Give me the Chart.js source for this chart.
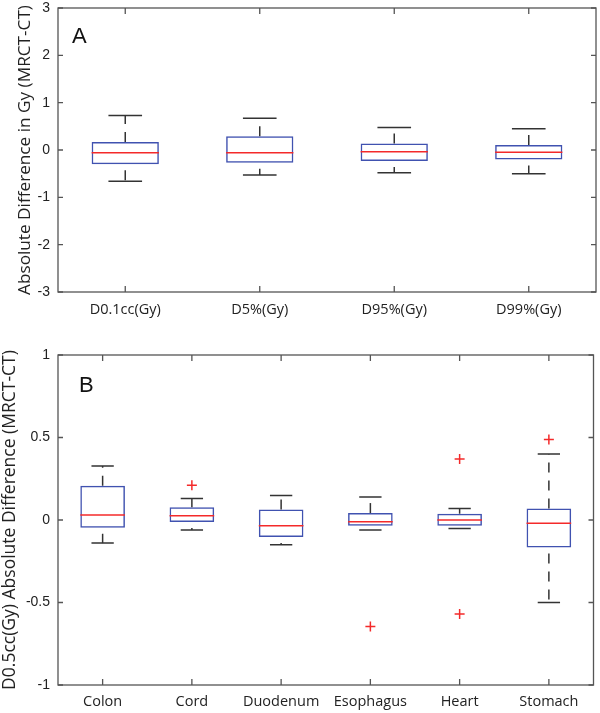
<!DOCTYPE html>
<html>
<head>
<meta charset="utf-8">
<script src="https://cdn.jsdelivr.net/npm/chart.js@4.4.1/dist/chart.umd.min.js"></script>
<style>
  body { margin: 0; background: #fff; }
  #wrapA { position: absolute; left: 0; top: 0; width: 600px; height: 340px; }
  #wrapB { position: absolute; left: 0; top: 340px; width: 600px; height: 373px; }
</style>
</head>
<body>
<div id="wrapA"><canvas id="chartA"></canvas></div>
<div id="wrapB"><canvas id="chartB"></canvas></div>
<script>
// Panel A
const catsA = ["D0.1cc(Gy)", "D5%(Gy)", "D95%(Gy)", "D99%(Gy)"];
const lowA  = [-0.66, -0.53, -0.48, -0.50];
const q1A   = [-0.30, -0.27, -0.23, -0.20];
const medA  = [-0.06, -0.06, -0.035, -0.05];
const q3A   = [0.17, 0.29, 0.135, 0.105];
const highA = [0.73, 0.67, 0.475, 0.45];
const ticksA = [-3, -2, -1, 0, 1, 2, 3];

// Panel B
const catsB = ["Colon", "Cord", "Duodenum", "Esophagus", "Heart", "Stomach"];
const lowB  = [-0.14, -0.061, -0.15, -0.061, -0.051, -0.50];
const q1B   = [-0.047, -0.012, -0.103, -0.035, -0.035, -0.166];
const medB  = [0.03, 0.026, -0.035, -0.01, 0.0, -0.02];
const q3B   = [0.207, 0.077, 0.064, 0.042, 0.038, 0.07];
const highB = [0.328, 0.13, 0.148, 0.14, 0.07, 0.40];
const outB  = [
  { x: "Cord", y: 0.21 },
  { x: "Esophagus", y: -0.646 },
  { x: "Heart", y: 0.37 },
  { x: "Heart", y: -0.569 },
  { x: "Stomach", y: 0.488 }
];
const ticksB = [-1, -0.5, 0, 0.5, 1];

const BLUE = "#4052b0";
const RED = "#f42a2a";
const DARK = "#333333";
const AXIS = "#555555";
const FONT = "'Open Sans', sans-serif";
const NUMFONT = "'Liberation Sans', Arial, sans-serif";

// whiskers, caps, medians and the panel letter
const boxExtras = {
  id: "boxExtras",
  afterDatasetsDraw(chart, args, opts) {
    const ctx = chart.ctx;
    const x = chart.scales.x, y = chart.scales.y;
    const bars = chart.getDatasetMeta(0).data;
    ctx.save();
    opts.med.forEach((m, i) => {
      const cx = x.getPixelForValue(i);
      const w = bars[i].width;
      const yLo = y.getPixelForValue(opts.low[i]);
      const yQ1 = y.getPixelForValue(opts.q1[i]);
      const yQ3 = y.getPixelForValue(opts.q3[i]);
      const yHi = y.getPixelForValue(opts.high[i]);
      ctx.strokeStyle = DARK;
      ctx.lineWidth = 1.5;
      // dashed whiskers
      ctx.setLineDash([10, 8]);
      ctx.lineDashOffset = 0;
      ctx.beginPath();
      ctx.moveTo(cx, yQ3);
      ctx.lineTo(cx, yHi);
      ctx.stroke();
      ctx.lineDashOffset = 12;
      ctx.beginPath();
      ctx.moveTo(cx, yQ1);
      ctx.lineTo(cx, yLo);
      ctx.stroke();
      ctx.setLineDash([]);
      // caps
      ctx.beginPath();
      ctx.moveTo(cx - w / 4, yHi);
      ctx.lineTo(cx + w / 4, yHi);
      ctx.moveTo(cx - w / 4, yLo);
      ctx.lineTo(cx + w / 4, yLo);
      ctx.stroke();
      // median
      const ym = y.getPixelForValue(m);
      ctx.strokeStyle = RED;
      ctx.beginPath();
      ctx.moveTo(cx - w / 2, ym);
      ctx.lineTo(cx + w / 2, ym);
      ctx.stroke();
    });
    ctx.fillStyle = "#111";
    ctx.font = "22px 'Liberation Sans', Arial, sans-serif";
    ctx.textBaseline = "alphabetic";
    ctx.fillText(opts.letter, chart.chartArea.left + opts.letterDx, chart.chartArea.top + opts.letterDy);
    ctx.restore();
  }
};

// full box frame with inward tick marks
const frame = {
  id: "frame",
  afterDraw(chart) {
    const ctx = chart.ctx;
    const a = chart.chartArea;
    const x = chart.scales.x, y = chart.scales.y;
    ctx.save();
    ctx.strokeStyle = AXIS;
    ctx.lineWidth = 1.3;
    ctx.strokeRect(a.left, a.top, a.right - a.left, a.bottom - a.top);
    ctx.beginPath();
    y.ticks.forEach((t, i) => {
      const py = y.getPixelForTick(i);
      ctx.moveTo(a.left, py); ctx.lineTo(a.left + 5, py);
      ctx.moveTo(a.right, py); ctx.lineTo(a.right - 5, py);
    });
    x.ticks.forEach((t, i) => {
      const px = x.getPixelForTick(i);
      ctx.moveTo(px, a.bottom); ctx.lineTo(px, a.bottom - 6);
      ctx.moveTo(px, a.top); ctx.lineTo(px, a.top + 6);
    });
    ctx.stroke();
    ctx.restore();
  }
};

function makeChart(id, cats, low, q1, med, q3, high, outliers, yTicks, cfg) {
  const datasets = [{
    type: "bar",
    data: cats.map((c, i) => [q1[i], q3[i]]),
    backgroundColor: "rgba(255,255,255,0)",
    borderColor: BLUE,
    borderWidth: 1.5,
    borderSkipped: false,
    barPercentage: 0.5,
    categoryPercentage: 1.0
  }];
  if (outliers.length) {
    datasets.push({
      type: "line",
      data: outliers,
      showLine: false,
      pointStyle: "cross",
      pointRadius: 5,
      pointBorderColor: RED,
      pointBorderWidth: 1.5
    });
  }
  return new Chart(document.getElementById(id), {
    type: "bar",
    data: { labels: cats, datasets },
    options: {
      responsive: true,
      maintainAspectRatio: false,
      animation: false,
      layout: { padding: { top: cfg.padTop, right: 4, left: 0, bottom: 0 } },
      plugins: {
        legend: { display: false },
        tooltip: { enabled: false },
        boxExtras: { low, q1, q3, high, med, letter: cfg.letter, letterDx: cfg.letterDx, letterDy: cfg.letterDy }
      },
      scales: {
        x: {
          grid: { display: false, drawTicks: false },
          border: { display: false },
          ticks: { color: "#222", padding: cfg.xPad, font: { family: FONT, size: 14.5 } },
          afterFit(s) { s.height = cfg.xHeight; }
        },
        y: {
          min: yTicks[0],
          max: yTicks[yTicks.length - 1],
          afterBuildTicks(s) { s.ticks = yTicks.map(v => ({ value: v })); },
          grid: { display: false, drawTicks: false },
          border: { display: false },
          ticks: {
            color: "#222",
            padding: 8,
            font: { family: NUMFONT, size: 14 },
            callback: v => String(v)
          },
          title: {
            display: true,
            text: cfg.yTitle,
            color: "#222",
            font: { family: FONT, size: cfg.titleSize },
            padding: { top: cfg.titlePad, bottom: 0 }
          },
          afterFit(s) {
            s.width = 58;
            s.paddingTop = 0;
            s.paddingBottom = 0;
          }
        }
      }
    },
    plugins: [boxExtras, frame]
  });
}

makeChart("chartA", catsA, lowA, q1A, medA, q3A, highA, [], ticksA, {
  padTop: 8, xHeight: 48, xPad: 9, letter: "A", letterDx: 14, letterDy: 35,
  yTitle: "Absolute Difference in Gy (MRCT-CT)", titleSize: 17.2, titlePad: 15
});
makeChart("chartB", catsB, lowB, q1B, medB, q3B, highB, outB, ticksB, {
  padTop: 15, xHeight: 28, xPad: 8, letter: "B", letterDx: 21, letterDy: 37,
  yTitle: "D0.5cc(Gy) Absolute Difference (MRCT-CT)", titleSize: 17.5, titlePad: 0
});
</script>
</body>
</html>
